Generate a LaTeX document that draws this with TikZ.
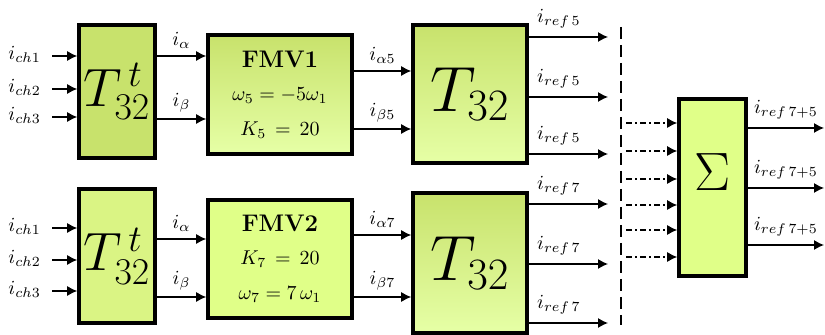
\documentclass[tikz,border=0pt]{standalone}
\usepackage{fix-cm}
\usepackage{amsmath,amssymb}
\usetikzlibrary{arrows.meta, shadows, calc}
\definecolor{blkdark}{HTML}{C8E26C}
\definecolor{blklight}{HTML}{E6FFA6}
\definecolor{blkmid}{HTML}{DAF484}
\definecolor{blkflat}{HTML}{E0FF88}
\newcommand{\Tfont}{\fontsize{27}{27}\selectfont}
\newcommand{\Pfont}{\fontsize{32}{32}\selectfont}
\newcommand{\Ffont}{\fontsize{12}{12}\selectfont\bfseries}

\begin{document}
\begin{tikzpicture}[x=0.5pt, y=-0.5pt,
  blk/.style={draw, line width=1.8pt, inner sep=0pt,
    drop shadow={shadow xshift=1pt, shadow yshift=-1.2pt, fill=black!25}},
  grad/.style={blk, top color=blkdark, bottom color=blklight},
  arr/.style={-{Latex[length=5pt,width=5pt]}, line width=0.6pt},
  dd/.style={arr, dash pattern=on 3pt off 1.5pt on 1pt off 1.5pt}]
  \useasboundingbox (0,0) rectangle (825,335);

  \node[blk, fill=blkdark, minimum width=38pt, minimum height=66.5pt] (tA) at (117,91.5) {\Tfont$T_{32}^{\,t}$};
  \node[grad, minimum width=72pt, minimum height=59.5pt, align=center] (fA) at (280,94.5)
    {{\Ffont FMV1}\\[4.5pt] $\omega_5 = -5\omega_1$\\[5.5pt] $K_5 \,=\, 20$};
  \node[grad, minimum width=57pt, minimum height=69pt] (pA) at (470,94) {\Pfont$T_{32}$};

  \node[blk, fill=blkmid, minimum width=38pt, minimum height=67pt] (tB) at (117,256) {\Tfont$T_{32}^{\,t}$};
  \node[blk, fill=blkflat, minimum width=72pt, minimum height=59pt, align=center] (fB) at (280,259)
    {{\Ffont FMV2}\\[4.5pt] $K_7 \,=\, 20$\\[5.5pt] $\omega_7 = 7\,\omega_1$};
  \node[grad, minimum width=57pt, minimum height=70pt] (pB) at (470,263) {\Pfont$T_{32}$};

  \node[blk, fill=blkflat, minimum width=33.5pt, minimum height=88.5pt] (sum) at (712.5,187.5) {};
  \node (sig) at ($(sum)+(0,-15)$) {\fontsize{27}{27}\selectfont$\Sigma$};

  \foreach \y [count=\k] in {56,89,117} {
    \coordinate (inA\k) at (52,\y);
    \draw[arr] (inA\k) node[left, xshift=-2pt, yshift=1pt] (lA\k) {$i_{ch\k}$} -- (inA\k -| tA.west);
  }
  \foreach \y [count=\k] in {228,260,291} {
    \coordinate (inB\k) at (52,\y);
    \draw[arr] (inB\k) node[left, xshift=-2pt, yshift=1pt] (lB\k) {$i_{ch\k}$} -- (inB\k -| tB.west);
  }

  \draw[arr] (tA.east |- 0,56) -- (fA.west |- 0,56) node[midway, above] (al1) {$i_\alpha$};
  \draw[arr] (tA.east |- 0,119) -- (fA.west |- 0,119) node[midway, above] (be1) {$i_\beta$};
  \draw[arr] (tB.east |- 0,239) -- (fB.west |- 0,239) node[midway, above] (al2) {$i_\alpha$};
  \draw[arr] (tB.east |- 0,297) -- (fB.west |- 0,297) node[midway, above] (be2) {$i_\beta$};

  \draw[arr] (fA.east |- 0,71) -- (pA.west |- 0,71) node[midway, above] (al5) {$i_{\alpha 5}$};
  \draw[arr] (fA.east |- 0,129) -- (pA.west |- 0,129) node[midway, above] (be5) {$i_{\beta 5}$};
  \draw[arr] (fB.east |- 0,235) -- (pB.west |- 0,235) node[midway, above] (al7) {$i_{\alpha 7}$};
  \draw[arr] (fB.east |- 0,297) -- (pB.west |- 0,297) node[midway, above] (be7) {$i_{\beta 7}$};

  \foreach \y [count=\k] in {37,97,154} {
    \coordinate (oA\k) at (608,\y);
    \draw[arr] (pA.east |- oA\k) -- (oA\k) node[pos=0.38, above, yshift=1pt] (rA\k) {$i_{ref\,5}$};
  }
  \foreach \y [count=\k] in {204,264,323} {
    \coordinate (oB\k) at (608,\y);
    \draw[arr] (pB.east |- oB\k) -- (oB\k) node[pos=0.38, above, yshift=1pt] (rB\k) {$i_{ref\,7}$};
  }

  \coordinate (dtop) at (621,27);
  \coordinate (dbot) at (621,325);
  \draw[line width=0.6pt, dash pattern=on 6pt off 3pt] (dtop) -- (dbot);

  \foreach \y [count=\k] in {123,151,179,205,230,257} {
    \coordinate (s\k) at (626,\y);
    \draw[dd] (s\k) -- (s\k -| sum.west);
  }

  \foreach \y [count=\k] in {128,188,245} {
    \coordinate (o\k) at (824,\y);
    \draw[arr] (sum.east |- o\k) -- (o\k) node[midway, above, yshift=1pt] (r\k) {$i_{ref\,7+5}$};
  }
\end{tikzpicture}
\end{document}
